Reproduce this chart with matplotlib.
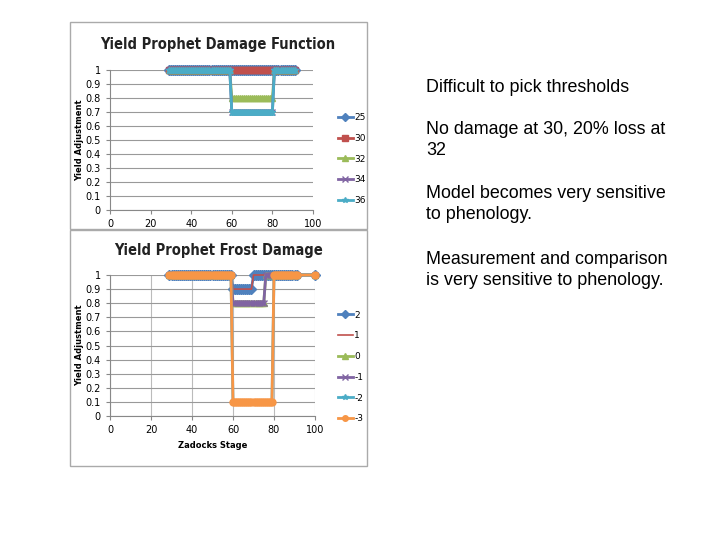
import matplotlib.pyplot as plt
from matplotlib.patches import Rectangle
import numpy as np

# Zadoks stages used in both charts
stages = list(range(29, 92))
frost_stages = list(range(29, 92)) + [100]

# Damage function: (first stage, last stage, value) steps, value 1 elsewhere
damage_names = ["25", "30", "32", "34", "36"]
damage_steps = {
    "25": [],
    "30": [],
    "32": [(60, 80, 0.8)],
    "34": [(60, 80, 0.7)],
    "36": [(60, 80, 0.7)],
}

frost_names = ["2", "1", "0", "-1", "-2", "-3"]
frost_steps = {
    "2": [(60, 69, 0.9)],
    "1": [(60, 69, 0.9)],
    "0": [(60, 75, 0.8)],
    "-1": [(60, 75, 0.8)],
    "-2": [(60, 79, 0.1)],
    "-3": [(60, 79, 0.1)],
}

notes = [
    ("Difficult to pick thresholds", 87),
    ("No damage at 30, 20% loss at\n32", 140),
    ("Model becomes very sensitive\nto phenology.", 204),
    ("Measurement and comparison\nis very sensitive to phenology.", 270),
]

colors = ["#4F81BD", "#C0504D", "#9BBB59", "#8064A2", "#4BACC6", "#F79646"]
W, H = 720, 540


def values(xs, steps):
    out = []
    for s in xs:
        v = 1.0
        for a, b, val in steps:
            if a <= s <= b:
                v = val
        out.append(v)
    return out


def style(ax, vgrid):
    ax.set_xlim(0, 100)
    ax.set_ylim(0, 1)
    ax.set_xticks(range(0, 101, 20))
    ax.set_yticks(np.arange(0, 1.01, 0.1))
    ax.set_yticklabels(["0", "0.1", "0.2", "0.3", "0.4", "0.5", "0.6", "0.7", "0.8", "0.9", "1"])
    ax.tick_params(labelsize=7, length=3, color="#888888")
    ax.grid(axis="y", color="#999999", lw=0.8)
    if vgrid:
        ax.grid(axis="x", color="#bbbbbb", lw=0.8)
    for s in ["top", "right"]:
        ax.spines[s].set_visible(False)
    for s in ["left", "bottom"]:
        ax.spines[s].set_color("#888888")
    ax.set_axisbelow(True)
    ax.set_ylabel("Yield Adjustment", fontsize=6, fontweight="bold", labelpad=1)


def fig_box(x0, y0, x1, y1):
    return [x0 / W, 1 - y1 / H, (x1 - x0) / W, (y1 - y0) / H]


fig = plt.figure(figsize=(7.2, 5.4), dpi=100)

# chart frames
for (x0, y0, x1, y1) in [(70, 22, 367, 229), (70, 230, 367, 466)]:
    fig.patches.append(Rectangle((x0 / W, 1 - y1 / H), (x1 - x0) / W, (y1 - y0) / H,
                                 transform=fig.transFigure, fill=False,
                                 edgecolor="#aaaaaa", lw=1))

# top chart
ax1 = fig.add_axes(fig_box(110, 70, 313, 210))
markers1 = ["D", "s", "^", "x", "*"]
for name, c, m in zip(damage_names, colors, markers1):
    ax1.plot(stages, values(stages, damage_steps[name]), color=c, marker=m,
             ms=5, lw=2, label=name, clip_on=False)
style(ax1, False)
fig.text(218 / W, 1 - 45 / H, "Yield Prophet Damage Function", fontsize=10.5,
         fontweight="bold", color="#222222", ha="center", va="center",
         family="DejaVu Sans", fontstretch="condensed")
ax1.legend(loc="center left", bbox_to_anchor=(330 / W, 1 - 159 / H),
           bbox_transform=fig.transFigure, frameon=False, fontsize=6.5,
           handlelength=1.6, labelspacing=1.3, handletextpad=0.2, markerscale=0.8)

# bottom chart
ax2 = fig.add_axes(fig_box(110, 275, 315, 416))
markers2 = ["D", None, "^", "x", "*", "o"]
for name, c, m in zip(frost_names, colors, markers2):
    ax2.plot(frost_stages, values(frost_stages, frost_steps[name]), color=c,
             marker=m, ms=5, lw=2 if m else 1.2, label=name, clip_on=False)
style(ax2, True)
fig.text(219 / W, 1 - 251 / H, "Yield Prophet Frost Damage", fontsize=10.5,
         fontweight="bold", color="#222222", ha="center", va="center",
         family="DejaVu Sans", fontstretch="condensed")
ax2.set_xlabel("Zadocks Stage", fontsize=6, fontweight="bold")
ax2.legend(loc="center left", bbox_to_anchor=(330 / W, 1 - 367 / H),
           bbox_transform=fig.transFigure, frameon=False, fontsize=6.5,
           handlelength=1.6, labelspacing=1.3, handletextpad=0.2, markerscale=0.8)

# notes on the right
for txt, y in notes:
    fig.text(426 / W, 1 - y / H, txt, fontsize=12.9,
             family="Liberation Sans", va="center", ha="left", linespacing=1.28)

fig.savefig("out.png", dpi=100)
